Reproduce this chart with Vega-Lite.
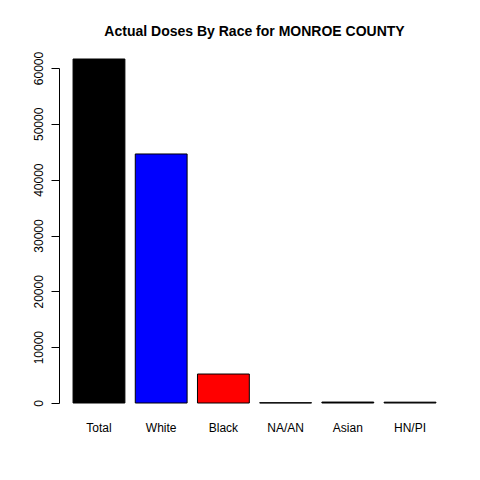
{
  "$schema": "https://vega.github.io/schema/vega-lite/v6.json",
  "autosize": "none",
  "padding": {"left": 59, "top": 68, "right": 30, "bottom": 77},
  "width": 391,
  "height": 335,
  "background": "white",
  "title": {
    "text": "Actual Doses By Race for MONROE COUNTY",
    "font": "Liberation Sans",
    "fontSize": 14,
    "fontWeight": "bold",
    "color": "black",
    "anchor": "middle",
    "offset": 12
  },
  "config": {"view": {"stroke": null}},
  "data": {
    "values": [
      {"race": "Total", "doses": 61610, "col": "black"},
      {"race": "White", "doses": 44600, "col": "blue"},
      {"race": "Black", "doses": 5190, "col": "red"},
      {"race": "NA/AN", "doses": 50, "col": "black"},
      {"race": "Asian", "doses": 170, "col": "black"},
      {"race": "HN/PI", "doses": 150, "col": "black"}
    ]
  },
  "mark": {"type": "bar", "stroke": "black", "strokeWidth": 1},
  "encoding": {
    "x": {
      "field": "race",
      "type": "nominal",
      "sort": null,
      "scale": {"paddingInner": 0.1667, "paddingOuter": 0.226},
      "axis": {
        "title": null,
        "domain": false,
        "ticks": false,
        "labelAngle": 0,
        "labelFont": "Liberation Sans",
        "labelFontSize": 12,
        "labelColor": "black",
        "labelPadding": 19
      }
    },
    "y": {
      "field": "doses",
      "type": "quantitative",
      "scale": {"domain": [0, 60000], "nice": false},
      "axis": {
        "title": null,
        "grid": false,
        "format": "d",
        "values": [0, 10000, 20000, 30000, 40000, 50000, 60000],
        "domainColor": "black",
        "tickColor": "black",
        "tickSize": 8,
        "labelAngle": -90,
        "labelAlign": "center",
        "labelBaseline": "bottom",
        "labelPadding": 6,
        "labelFont": "Liberation Sans",
        "labelFontSize": 12,
        "labelColor": "black"
      }
    },
    "fill": {"field": "col", "type": "nominal", "scale": null}
  }
}
